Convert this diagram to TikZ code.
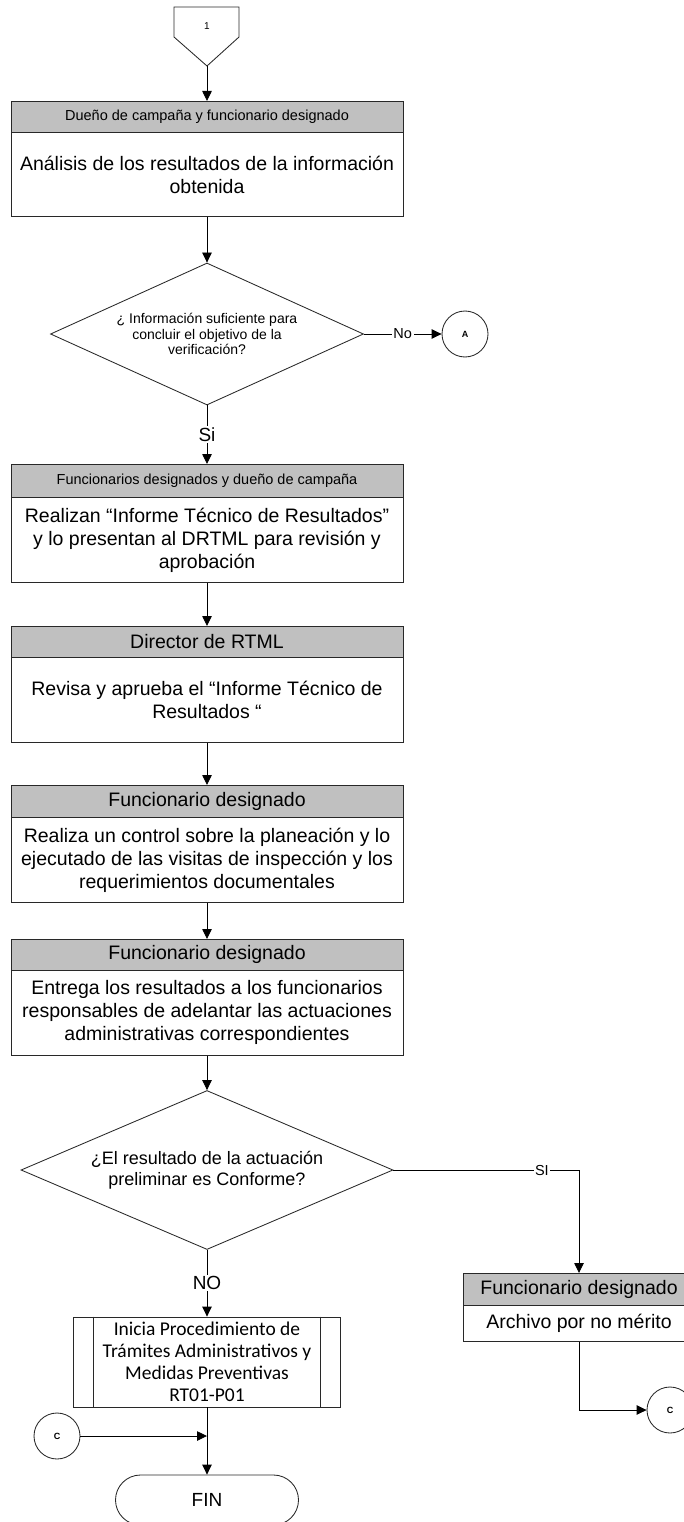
\documentclass[tikz,border=0pt]{standalone}
\usepackage{fontspec}
\setmainfont{Liberation Sans}
\newfontfamily\calib{Carlito}
\usetikzlibrary{shapes.geometric,arrows.meta}
\definecolor{hdrgray}{RGB}{192,192,192}
\definecolor{edge}{RGB}{40,40,40}
\begin{document}
\begin{tikzpicture}[x=1pt,y=-1pt,line width=0.85pt,
  arr/.style={-{Triangle[length=10pt,width=9.5pt]}},
  hdr/.style={draw=edge,fill=hdrgray,inner sep=0pt,anchor=north,minimum width=392pt},
  hdrsmall/.style={hdr,font=\fontsize{14.5}{16}\selectfont},
  hdrbig/.style={hdr,font=\fontsize{19.5}{22}\selectfont},
  body/.style={draw=edge,fill=white,inner sep=0pt,anchor=north,align=center,minimum width=392pt,font=\fontsize{19.5}{23}\selectfont},
  decision/.style={draw=edge,shape=diamond,inner sep=0pt,align=center},
  conn/.style={draw=edge,circle,minimum size=46pt,inner sep=0pt,font=\bfseries\fontsize{9}{10}\selectfont},
  lbl/.style={fill=white,inner sep=1.5pt},
]
\useasboundingbox (0,0) rectangle (684,1522);
\clip (0,0) rectangle (684,1522);

% off-page connector 1
\draw[edge] (174,7) -- (239,7) -- (239,37) -- (207,66) -- (174,37) -- cycle;
\node[font=\fontsize{10}{12}\selectfont] (n1) at (207,26) {1};
\coordinate (p1) at (207,66);

% box 1
\node[hdrsmall,minimum height=31pt] (h1) at (207,101) {Dueño de campaña y funcionario designado};
\node[body,minimum height=84pt] (b1) at (207,132) {Análisis de los resultados de la información\\obtenida};

% decision 1
\node[decision,minimum width=313pt,minimum height=142pt,aspect=2.2,font=\fontsize{14}{15.5}\selectfont] (d1) at (207,334)
  {¿ Información suficiente para\\concluir el objetivo de la\\verificación?};
\node[conn] (cA) at (465,334) {A};

% box 2
\node[hdrsmall,minimum height=33pt] (h2) at (207,464) {Funcionarios designados y dueño de campaña};
\node[body,minimum height=85pt] (b2) at (207,497) {Realizan “Informe Técnico de Resultados”\\y lo presentan al DRTML para revisión y\\aprobación};

% box 3
\node[hdrbig,minimum height=31pt] (h3) at (207,626) {Director de RTML};
\node[body,minimum height=85pt] (b3) at (207,657) {Revisa y aprueba el “Informe Técnico de\\Resultados “};

% box 4
\node[hdrbig,minimum height=32pt] (h4) at (207,785) {Funcionario designado};
\node[body,minimum height=85pt] (b4) at (207,817) {Realiza un control sobre la planeación y lo\\ejecutado de las visitas de inspección y los\\requerimientos documentales};

% box 5
\node[hdrbig,minimum height=31pt] (h5) at (207,939) {Funcionario designado};
\node[body,minimum height=85pt] (b5) at (207,970) {Entrega los resultados a los funcionarios\\responsables de adelantar las actuaciones\\administrativas correspondientes};

% decision 2
\node[decision,minimum width=372pt,minimum height=159pt,aspect=2.34,font=\fontsize{18}{21.5}\selectfont] (d2) at (207,1170)
  {¿El resultado de la actuación\\preliminar es Conforme?};

% right branch
\node[hdrbig,minimum width=232pt,minimum height=32pt] (hR) at (579,1273) {Funcionario designado};
\node[body,minimum width=232pt,minimum height=36pt] (bR) at (579,1305) {Archivo por no mérito};
\node[conn] (cC2) at (670,1410) {C};

% process
\node[draw=edge,minimum width=267pt,minimum height=90pt,inner sep=0pt,align=center,
  font=\calib\fontsize{19.5}{22}\selectfont] (proc) at (207,1362)
  {Inicia Procedimiento de\\Trámites Administrativos y\\Medidas Preventivas\\RT01-P01};
\draw[edge] ([xshift=20pt]proc.north west) -- ([xshift=20pt]proc.south west);
\draw[edge] ([xshift=-21pt]proc.north east) -- ([xshift=-21pt]proc.south east);

\node[conn] (cC1) at (57,1436) {C};
\coordinate (jn) at (proc.south |- cC1.east);

% terminal
\node[draw=edge,rounded corners=25pt,minimum width=183pt,minimum height=50pt,inner sep=0pt,
  font=\fontsize{19}{22}\selectfont] (fin) at (207,1500) {FIN};

% connectors
\draw[arr] (p1) -- (h1.north);
\draw[arr] (b1.south) -- (d1.north);
\draw[arr] (d1.east) -- (cA.west) node[lbl,midway,font=\fontsize{14.5}{16}\selectfont] {No};
\draw[arr] (d1.south) -- (h2.north) node[lbl,midway,font=\fontsize{19}{22}\selectfont] {Si};
\draw[arr] (b2.south) -- (h3.north);
\draw[arr] (b3.south) -- (h4.north);
\draw[arr] (b4.south) -- (h5.north);
\draw[arr] (b5.south) -- (d2.north);
\draw[arr] (d2.east) -| (hR.north) node[lbl,pos=0.4,font=\fontsize{14.5}{16}\selectfont] {SI};
\draw[arr] (d2.south) -- (proc.north) node[lbl,midway,font=\fontsize{19}{22}\selectfont] {NO};
\draw[arr] (proc.south) -- (fin.north);
\draw[arr] (cC1.east) -- (jn);
\draw[arr] (bR.south) |- (cC2.west);
\end{tikzpicture}
\end{document}
